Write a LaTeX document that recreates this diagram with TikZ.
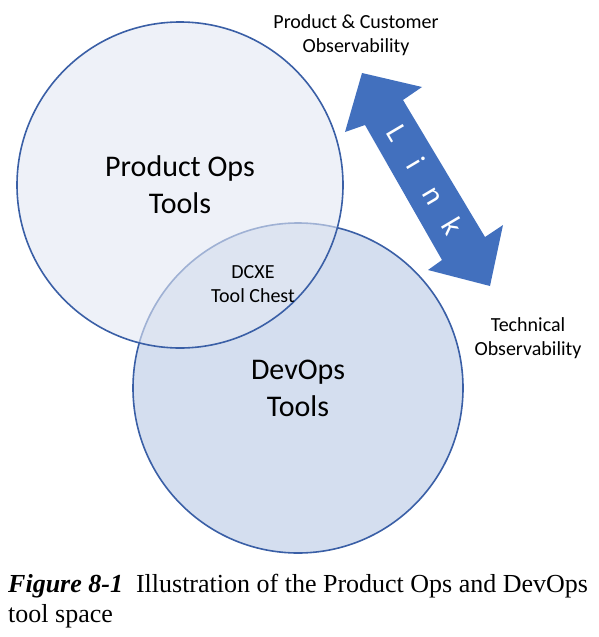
\documentclass[tikz,border=0pt]{standalone}
\usepackage{fontspec}
\setmainfont{Carlito}
\newfontfamily\capfont{Liberation Serif}

\definecolor{ringblue}{HTML}{3A5FA6}
\definecolor{linkblue}{HTML}{4270BE}
\definecolor{devfill}{HTML}{D4DEEF}
\definecolor{prodfill}{HTML}{E3E8F3}

\begin{document}
\begin{tikzpicture}[
    x=1pt, y=-1pt,
    ring/.style={circle, draw=ringblue, line width=1.6pt, inner sep=0pt,
                 minimum size=326pt, align=center,
                 font=\fontsize{30}{37}\selectfont},
    note/.style={align=center, font=\fontsize{20}{24.5}\selectfont},
    caption/.style={anchor=base west, inner sep=0pt,
                    font=\capfont\fontsize{26}{30}\selectfont},
  ]
  \useasboundingbox (0,0) rectangle (599,637);

  % the two tool spaces
  \node[ring, fill=devfill, minimum size=330pt] (devops) at (298,388) {DevOps\\Tools};
  \node[ring, fill=prodfill, fill opacity=0.6, text opacity=1] (prodops) at (180,185) {Product Ops\\Tools};
  \node[note] (chest) at (253,284) {DCXE\\Tool Chest};

  % observability labels
  \node[note] (prodobs) at (356,35) {Product \& Customer\\Observability};
  \node[note] (techobs) at (528,338) {Technical\\Observability};

  % double arrow
  \fill[linkblue] (362,73) -- (422,87) -- (403,100) -- (485,237) -- (503,225)
    -- (490,286) -- (428,270) -- (442,260) -- (365,125) -- (345,132) -- cycle;
  \node[text=white, rotate=-59.4, font=\fontsize{30}{30}\selectfont] (link)
    at (425.5,179.5) {L\hspace{26pt}i\hspace{25pt}n\hspace{21pt}k};

  % caption
  \node[caption] (cap1) at (8,592)
    {\textbf{\textit{Figure 8-1}}\enspace Illustration of the Product Ops and DevOps};
  \node[caption] (cap2) at (8,622) {tool space};
\end{tikzpicture}
\end{document}
